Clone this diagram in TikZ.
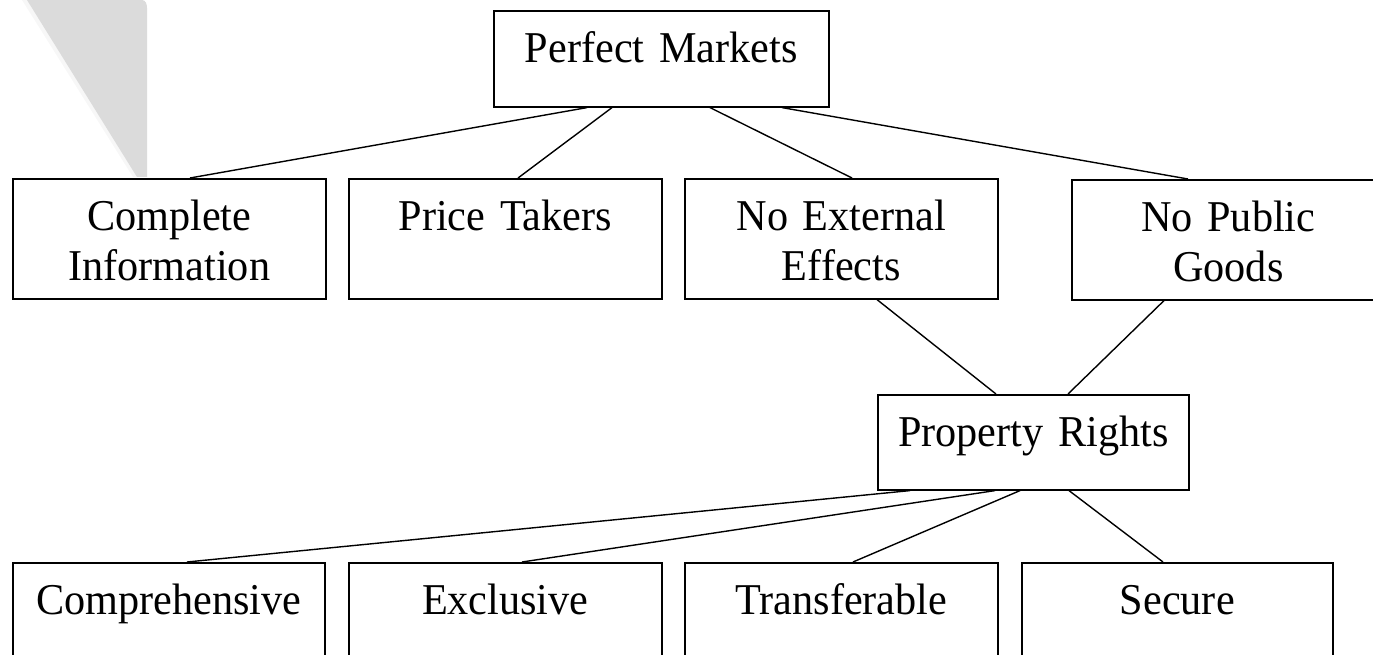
\documentclass[tikz,border=0pt]{standalone}
\usepackage{fontspec}
\setmainfont{Liberation Serif}[FakeStretch=0.96, WordSpace=0.75]
\begin{document}
\begin{tikzpicture}[x=1pt,y=-1pt,
  box/.style={draw, line width=1.6pt, fill=white, rectangle, anchor=north west,
    inner xsep=0pt, inner ysep=0pt, align=center,
    font=\fontsize{44}{50}\selectfont, text height=52pt},
  link/.style={line width=1.4pt}]
\useasboundingbox (0,0) rectangle (1373,655);
\clip (0,0) rectangle (1373,655);

% soft grey wedge in the upper left corner
\fill[gray!6] (22,0) -- (30,0) -- (139,177) -- (133,177) -- cycle;
\fill[black!14] (27,0) -- (142,0) to[out=0,in=90] (147,8) -- (147,177) -- (137,177) -- cycle;

% top level
\node[box, text width=335pt, text depth=44pt] (pm) at (493,10) {Perfect Markets};

% conditions
\node[box, text width=313pt, text depth=68pt] (ci) at (12,178) {Complete\\Information};
\node[box, text width=313pt, text depth=68pt] (pt) at (348,178) {Price Takers};
\node[box, text width=313pt, text depth=68pt] (ne) at (684,178) {No External\\Effects};
\node[box, text width=313pt, text depth=68pt] (np) at (1071,179) {No Public\\Goods};

% property rights
\node[box, text width=311pt, text depth=43pt] (pr) at (877,394) {Property Rights};

% characteristics of property rights
\node[box, text width=312pt, text depth=68pt] (co) at (12,562) {Comprehensive};
\node[box, text width=313pt, text depth=68pt] (ex) at (348,562) {Exclusive};
\node[box, text width=313pt, text depth=68pt] (tr) at (684,562) {Transferable};
\node[box, text width=311pt, text depth=68pt] (se) at (1021,562) {Secure};

% connectors
\draw[link] ([xshift=94pt]pm.south west) -- ([xshift=178pt]ci.north west);
\draw[link] ([xshift=119pt]pm.south west) -- ([xshift=170pt]pt.north west);
\draw[link] ([xshift=217pt]pm.south west) -- ([xshift=168pt]ne.north west);
\draw[link] ([xshift=289pt]pm.south west) -- ([xshift=117pt]np.north west);

\draw[link] ([xshift=193pt]ne.south west) -- ([xshift=119pt]pr.north west);
\draw[link] ([xshift=93pt]np.south west) -- ([xshift=191pt]pr.north west);

\draw[link] ([xshift=33pt]pr.south west) -- ([xshift=175pt]co.north west);
\draw[link] ([xshift=118pt]pr.south west) -- ([xshift=174pt]ex.north west);
\draw[link] ([xshift=143pt]pr.south west) -- ([xshift=169pt]tr.north west);
\draw[link] ([xshift=192pt]pr.south west) -- ([xshift=142pt]se.north west);
\end{tikzpicture}
\end{document}
